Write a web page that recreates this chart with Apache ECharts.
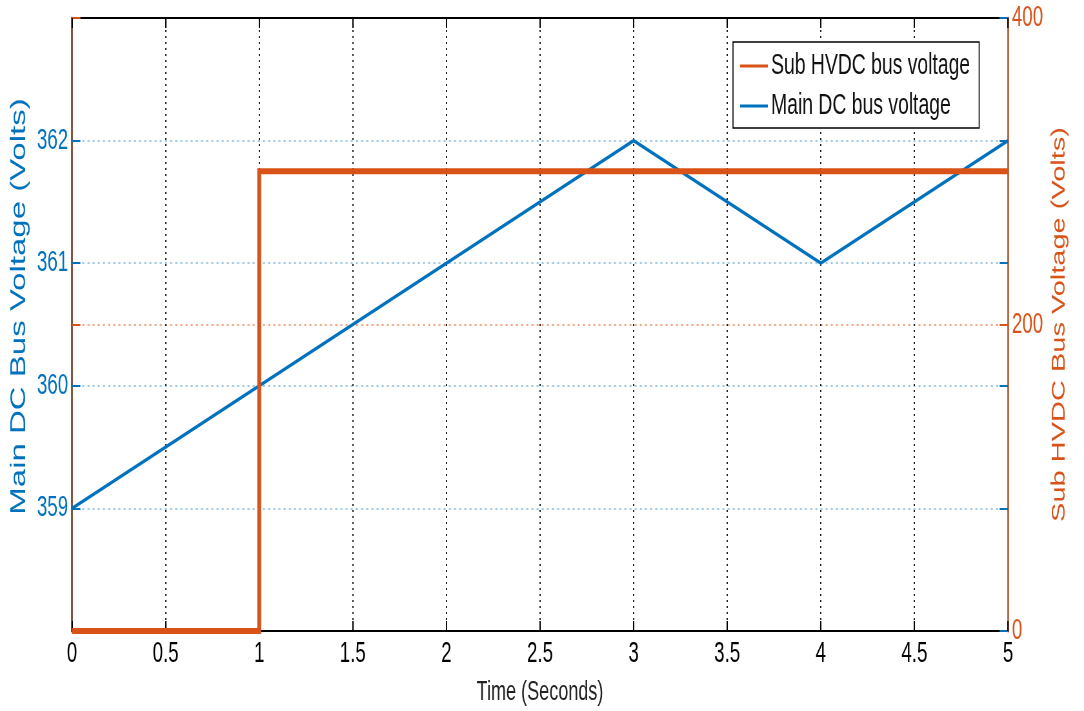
<!DOCTYPE html>
<html>
<head>
<meta charset="utf-8">
<script src="https://cdn.jsdelivr.net/npm/echarts@6/dist/echarts.min.js"></script>
<style>
  html, body { margin: 0; padding: 0; background: #fff; overflow: hidden; }
  #wrap { width: 1084px; height: 711px; overflow: hidden; }
  /* the figure is drawn wide and squeezed horizontally into the page */
  #chart { width: 1680px; height: 711px; transform: scaleX(0.64524); transform-origin: 0 0; }
</style>
</head>
<body>
<div id="wrap"><div id="chart"></div></div>
<script>
// Main DC bus voltage (left axis, Volts) over time (s)
const mainTime = [0, 3, 4, 5];
const mainVolts = [359, 362, 361, 362];

// Sub HVDC bus voltage (right axis, Volts): step at t = 1 s
const subTime = [0, 1, 1, 5];
const subVolts = [0, 0, 300, 300];

// Labelled ticks
const leftTicks = [359, 360, 361, 362];
const rightTicks = [0, 200, 400];

const BLUE = '#0072BD';
const ORANGE = '#D95319';
const FONT = "'Liberation Sans', Arial, Helvetica, sans-serif";

const chart = echarts.init(document.getElementById('chart'));

chart.setOption({
  animation: false,
  backgroundColor: '#fff',
  textStyle: { fontFamily: FONT },
  grid: {
    left: 111.6, right: 117.8, top: 18, bottom: 79,
    show: true, borderColor: '#000', borderWidth: 2, backgroundColor: 'transparent'
  },
  legend: {
    orient: 'vertical',
    left: 1136, top: 42,
    padding: [9, 14, 7, 11],
    backgroundColor: '#fff',
    borderColor: '#000', borderWidth: 1.6,
    icon: 'rect', itemWidth: 43, itemHeight: 3, itemGap: 10,
    textStyle: { fontFamily: FONT, fontSize: 30, lineHeight: 30, color: '#111' },
    data: ['Sub HVDC bus voltage', 'Main DC bus voltage']
  },
  xAxis: [
    {
      type: 'value', position: 'bottom', min: 0, max: 5, interval: 0.5,
      name: 'Time (Seconds)', nameLocation: 'middle', nameGap: 47,
      nameTextStyle: { fontFamily: FONT, fontSize: 28, color: '#222' },
      axisLine: { show: true, onZero: false, lineStyle: { color: '#000', width: 2 } },
      axisTick: { show: true, inside: true, length: 10, lineStyle: { color: '#000', width: 2 } },
      axisLabel: { fontFamily: FONT, fontSize: 29, color: '#000', margin: 8 },
      splitLine: {
        show: true, showMinLine: false, showMaxLine: false,
        lineStyle: { color: '#222', width: 2, type: [2, 4] }
      }
    },
    {
      type: 'value', position: 'top', min: 0, max: 5, interval: 0.5,
      axisLine: { show: false, onZero: false },
      axisTick: { show: true, inside: true, length: 10, lineStyle: { color: '#000', width: 2 } },
      axisLabel: { show: false },
      splitLine: { show: false }
    }
  ],
  yAxis: [
    {
      type: 'value', position: 'left', min: 358, max: 363, interval: 1,
      name: 'Main DC Bus Voltage (Volts)', nameLocation: 'middle', nameGap: 60, nameRotate: 90,
      nameTextStyle: { fontFamily: FONT, fontSize: 33, color: BLUE, padding: [0, 0, 0, 36] },
      axisLine: { show: true, onZero: false, lineStyle: { color: '#84553f', width: 3 } },
      axisTick: { show: true, inside: true, length: 13, lineStyle: { color: BLUE, width: 2 } },
      axisLabel: {
        fontFamily: FONT, fontSize: 29, color: BLUE, margin: 6,
        formatter: v => leftTicks.includes(v) ? String(v) : ''
      },
      splitLine: {
        show: true, showMinLine: false, showMaxLine: false,
        lineStyle: { color: '#9cc8e8', width: 2, type: [3, 5] }
      }
    },
    {
      type: 'value', position: 'right', min: 0, max: 400, interval: 200,
      name: 'Sub HVDC Bus Voltage (Volts)', nameLocation: 'middle', nameGap: 62, nameRotate: 90,
      nameTextStyle: { fontFamily: FONT, fontSize: 29, color: ORANGE },
      axisLine: { show: true, onZero: false, lineStyle: { color: '#b8693f', width: 3 } },
      axisTick: { show: true, inside: true, length: 13, lineStyle: { color: ORANGE, width: 2 } },
      axisLabel: {
        fontFamily: FONT, fontSize: 29, color: ORANGE, margin: 6,
        formatter: v => rightTicks.includes(v) ? String(v) : ''
      },
      splitLine: {
        show: true, showMinLine: false, showMaxLine: false,
        lineStyle: { color: '#f2a584', width: 2, type: [3, 5] }
      }
    },
    {
      // left-axis ticks repeated on the right spine
      type: 'value', position: 'right', offset: 0, min: 358, max: 363, interval: 1,
      axisLine: { show: false, onZero: false },
      axisTick: { show: true, inside: true, length: 13, lineStyle: { color: BLUE, width: 2 } },
      axisLabel: { show: false },
      splitLine: { show: false }
    },
    {
      // right-axis ticks repeated on the left spine
      type: 'value', position: 'left', offset: 0, min: 0, max: 400, interval: 200,
      axisLine: { show: false, onZero: false },
      axisTick: { show: true, inside: true, length: 13, lineStyle: { color: ORANGE, width: 2 } },
      axisLabel: { show: false },
      splitLine: { show: false }
    }
  ],
  series: [
    {
      name: 'Main DC bus voltage', type: 'line', yAxisIndex: 0, xAxisIndex: 0,
      data: mainTime.map((t, i) => [t, mainVolts[i]]),
      symbol: 'none', clip: false,
      lineStyle: { color: BLUE, width: 3.5 },
      itemStyle: { color: BLUE }
    },
    {
      name: 'Sub HVDC bus voltage', type: 'line', yAxisIndex: 1, xAxisIndex: 0,
      data: subTime.map((t, i) => [t, subVolts[i]]),
      symbol: 'none', clip: false,
      lineStyle: { color: ORANGE, width: 6, join: 'miter' },
      itemStyle: { color: ORANGE }
    }
  ]
});
</script>
</body>
</html>
